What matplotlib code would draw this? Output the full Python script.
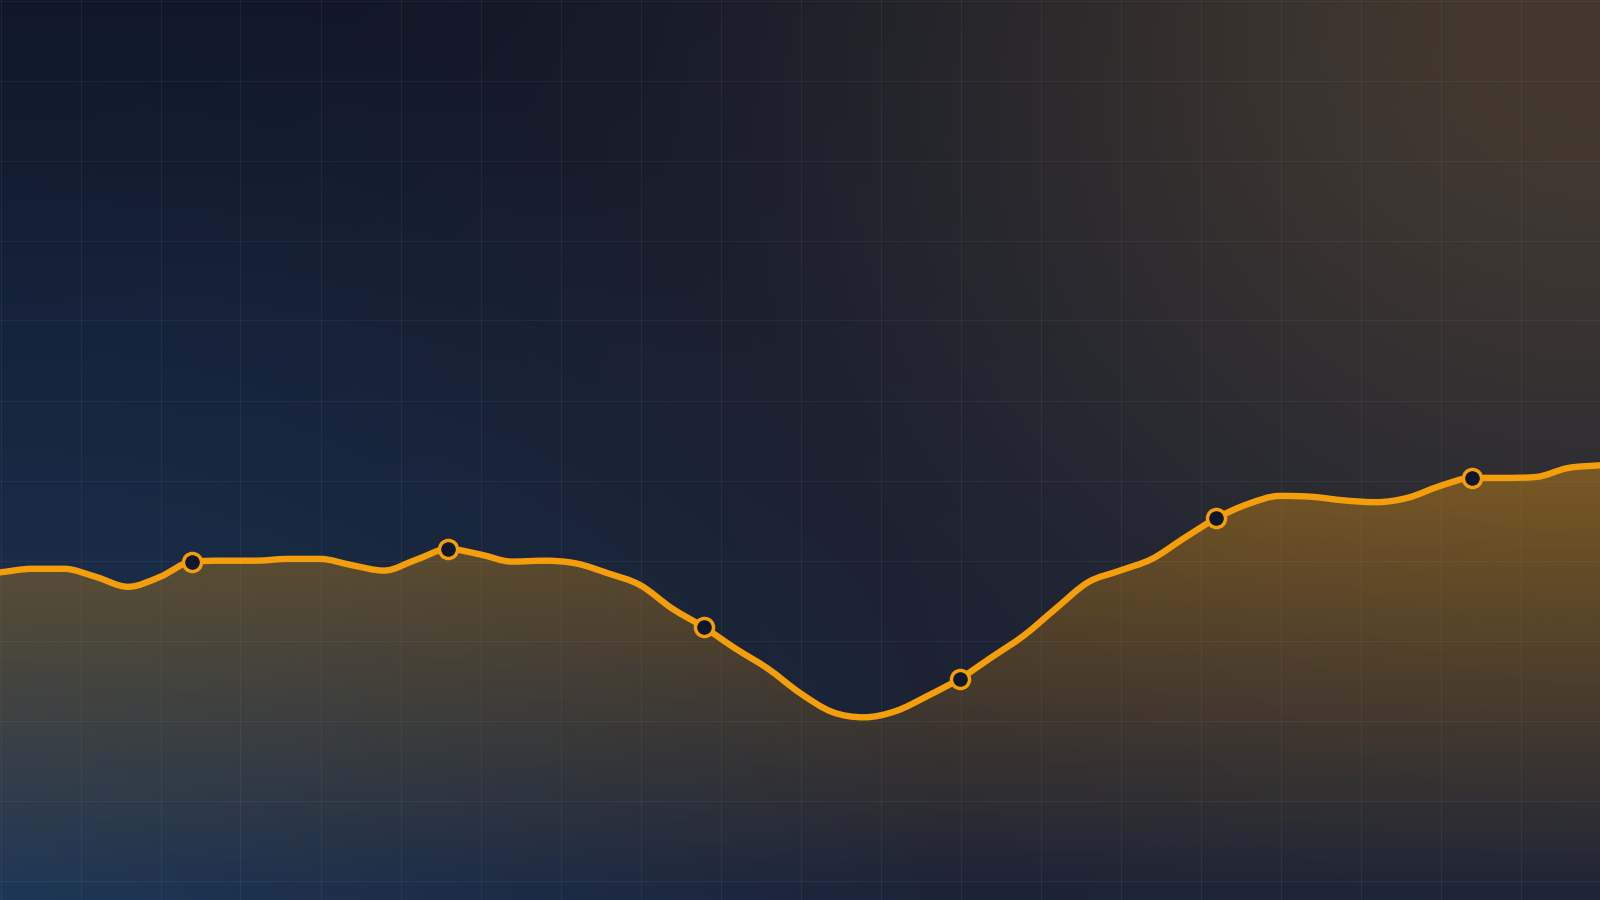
import numpy as np
import matplotlib
matplotlib.use('Agg')
import matplotlib.pyplot as plt
from matplotlib.path import Path
from matplotlib.patches import PathPatch

W, H = 1600, 900
dpi = 100

# series (value scale 0..100 over the full height)
values = [36.4, 36.8, 36.8, 35.9, 34.8, 35.9, 37.6, 37.7, 37.7, 37.9,
          37.9, 37.2, 36.6, 37.8, 39.0, 38.4, 37.6, 37.7, 37.4, 36.3,
          35.0, 32.4, 30.3, 27.9, 25.7, 23.0, 20.9, 20.3, 21.0, 22.7,
          24.6, 27.0, 29.4, 32.4, 35.3, 36.6, 37.9, 40.2, 42.4, 44.0,
          44.9, 44.8, 44.4, 44.2, 44.7, 46.0, 46.9, 46.9, 47.0, 48.0,
          48.3]
steps = np.arange(len(values))
marker_idx = [6, 14, 22, 30, 38, 46]

line_color = '#f59e0b'
dot_face = '#0f172a'


def monotone_path(x, y):
    # cubic bezier path through the points (monotone-x style tangents)
    x = np.asarray(x, float)
    y = np.asarray(y, float)
    h = np.diff(x)
    s = np.diff(y) / h
    m = np.zeros_like(y)
    m[0], m[-1] = s[0], s[-1]
    for i in range(1, len(y) - 1):
        if s[i - 1] * s[i] <= 0:
            m[i] = 0
        else:
            m[i] = (s[i - 1] + s[i]) / 2
            lim = 3 * min(abs(s[i - 1]), abs(s[i]))
            m[i] = np.sign(m[i]) * min(abs(m[i]), lim)
    verts = [(x[0], y[0])]
    codes = [Path.MOVETO]
    for i in range(len(x) - 1):
        verts += [(x[i] + h[i] / 3, y[i] + m[i] * h[i] / 3),
                  (x[i + 1] - h[i] / 3, y[i + 1] - m[i + 1] * h[i] / 3),
                  (x[i + 1], y[i + 1])]
        codes += [Path.CURVE4] * 3
    return verts, codes


fig = plt.figure(figsize=(W / dpi, H / dpi), dpi=dpi)
ax = fig.add_axes([0, 0, 1, 1])
ax.axis('off')
x_max = len(values) - 1

# background: dark navy base, amber glow top-right, blue glow bottom-left
yy, xx = np.mgrid[0:H, 0:W].astype(float)
v = yy / H
top = np.array([15, 22, 40]) / 255
bottom = np.array([25, 34, 56]) / 255
bg = top[None, None, :] * (1 - v[..., None]) + bottom[None, None, :] * v[..., None]

q = ((W - xx) / 720) ** 2 + (yy / 600) ** 2
w_amber = 0.23 * np.exp(-q)
amber = np.array([242, 172, 67]) / 255
bg = bg * (1 - w_amber[..., None]) + amber * w_amber[..., None]

d_blue = np.sqrt(xx ** 2 + (H - yy) ** 2) / 950
w_blue = 0.20 * np.clip(1 - d_blue, 0, 1)
blue = np.array([50, 140, 210]) / 255
bg = bg * (1 - w_blue[..., None]) + blue * w_blue[..., None]

ax.imshow(bg, extent=[0, x_max, 0, 100], origin='upper',
          aspect='auto', zorder=0, interpolation='bilinear')

# pixel grid every 80 px
for px in range(0, W + 1, 80):
    ax.plot([(px + 0.5) / W] * 2, [0, 1], transform=ax.transAxes,
            color='white', alpha=0.05, lw=0.8, zorder=1)
for py in range(0, H + 1, 80):
    ax.plot([0, 1], [1 - (py + 0.5) / H] * 2, transform=ax.transAxes,
            color='white', alpha=0.05, lw=0.8, zorder=1)

verts, codes = monotone_path(steps, values)

# gradient fill under the curve
top_val = max(values)
grad = np.zeros((256, 2, 4))
grad[..., 0] = 245 / 255
grad[..., 1] = 158 / 255
grad[..., 2] = 11 / 255
grad[..., 3] = np.linspace(0.38, 0.0, 256)[:, None]
area = Path(verts + [(x_max, 0), (0, 0), verts[0]],
            codes + [Path.LINETO, Path.LINETO, Path.CLOSEPOLY])
img = ax.imshow(grad, extent=[0, x_max, 0, top_val], origin='upper',
                aspect='auto', zorder=2, interpolation='bilinear')
img.set_clip_path(area, transform=ax.transData)

ax.add_patch(PathPatch(Path(verts, codes), fill=False, ec=line_color,
                       lw=4.6, joinstyle='round', capstyle='round', zorder=3))
ax.plot(steps[marker_idx], np.array(values)[marker_idx], 'o', ms=13,
        mfc=dot_face, mec=line_color, mew=2.5, zorder=4)

ax.set_xlim(0, x_max)
ax.set_ylim(0, 100)
fig.savefig('out.png', dpi=dpi)
